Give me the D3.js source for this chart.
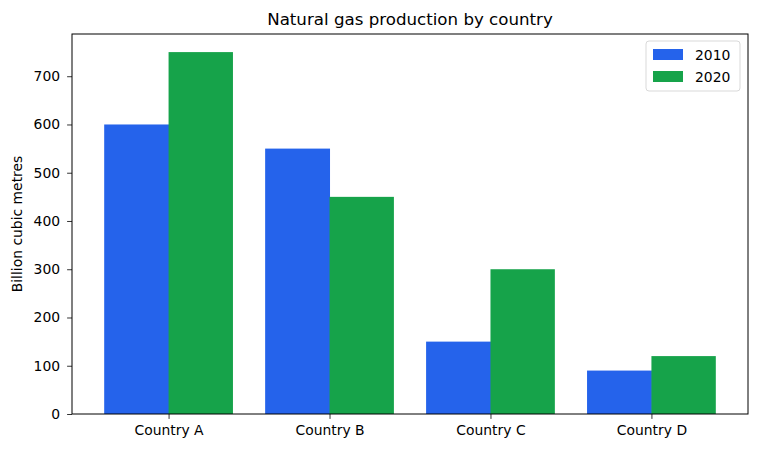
<!DOCTYPE html>
<html>
<head>
<meta charset="utf-8">
<script src="https://cdn.jsdelivr.net/npm/d3@7"></script>
<style>
  body { margin: 0; background: #fff; }
  svg { font-family: "DejaVu Sans", sans-serif; }
</style>
</head>
<body>
<div id="chart"></div>
<script>
    // Data
    countries = ["Country A", "Country B", "Country C", "Country D"]
    years = ["2010", "2020"]
    values_2010 = [600, 550, 150, 90]
    values_2020 = [750, 450, 300, 120]
    yTicks = [0, 100, 200, 300, 400, 500, 600, 700]

    colors = {"2010": "#2563eb", "2020": "#16a34a"}

    canvas = ({width: 758, height: 451})
    margin = ({top: 34, right: 10, bottom: 37, left: 72})

    var svg = d3.select("#chart").append("svg")
        .attr("width", canvas.width)
        .attr("height", canvas.height)

    // Scales (bars centered on integer positions, width 0.4 each, xlim -0.6..3.6)
    x = d3.scaleLinear()
        .domain([-0.6, countries.length - 0.4])
        .range([margin.left, canvas.width - margin.right])

    y = d3.scaleLinear()
        .domain([0, 787.5])
        .range([canvas.height - margin.bottom, margin.top])

    barW = 0.4
    series = [values_2010, values_2020]

    series.forEach(function(vals, s) {
        svg.append("g")
            .selectAll("rect")
            .data(vals)
            .join("rect")
            .attr("x", (d, i) => x(i + (s - 1) * barW))
            .attr("width", x(barW) - x(0) + (s == 0 ? 0.5 : 0))
            .attr("y", d => y(d))
            .attr("height", d => y(0) - y(d))
            .attr("fill", colors[years[s]])
    })

    // Axes
    xAxis = g => g
        .attr("transform", `translate(0,${canvas.height - margin.bottom})`)
        .call(d3.axisBottom(x).tickValues(d3.range(countries.length))
            .tickFormat(i => countries[i]).tickSize(4.9).tickSizeOuter(0).tickPadding(6))

    yAxis = g => g
        .attr("transform", `translate(${margin.left},0)`)
        .call(d3.axisLeft(y).tickValues(yTicks).tickSize(4.9).tickSizeOuter(0).tickPadding(7))

    svg.append("g").call(xAxis).call(g => g.select(".domain").remove())
    svg.append("g").call(yAxis).call(g => g.select(".domain").remove())

    svg.selectAll(".tick text")
        .attr("font-family", "DejaVu Sans")
        .attr("font-size", 13.9)
        .attr("fill", "#000")
    svg.selectAll(".tick line").attr("stroke", "#000").attr("stroke-width", 0.8)

    // Frame
    svg.append("rect")
        .attr("x", margin.left)
        .attr("y", margin.top)
        .attr("width", canvas.width - margin.left - margin.right)
        .attr("height", canvas.height - margin.top - margin.bottom)
        .attr("fill", "none")
        .attr("stroke", "#000")
        .attr("stroke-width", 1)

    // Title and y label
    svg.append("text")
        .attr("x", (margin.left + canvas.width - margin.right) / 2)
        .attr("y", 25)
        .attr("text-anchor", "middle")
        .attr("font-size", 16.67)
        .text("Natural gas production by country")

    svg.append("text")
        .attr("transform", `translate(22,${(margin.top + canvas.height - margin.bottom) / 2}) rotate(-90)`)
        .attr("text-anchor", "middle")
        .attr("font-size", 13.9)
        .text("Billion cubic metres")

    // Legend
    legend = svg.append("g").attr("transform", "translate(646,41)")
    legend.append("rect")
        .attr("width", 94).attr("height", 50).attr("rx", 3)
        .attr("fill", "#fff").attr("stroke", "#d9d9d9").attr("stroke-width", 1)
    years.forEach(function(yr, i) {
        legend.append("rect")
            .attr("x", 7).attr("y", 8 + i * 22)
            .attr("width", 30).attr("height", 11)
            .attr("fill", colors[yr])
        legend.append("text")
            .attr("x", 49).attr("y", 18.5 + i * 22)
            .attr("font-size", 13.9)
            .text(yr)
    })
</script>
</body>
</html>
